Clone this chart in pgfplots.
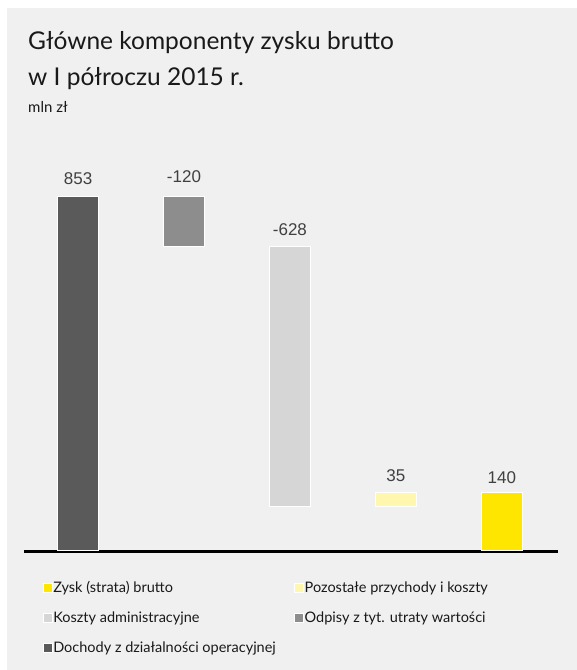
\documentclass[border=0pt]{standalone}
\usepackage{pgfplots}
\pgfplotsset{compat=1.18}
\usepackage{fontspec}
\setmainfont{Lato}
\newfontfamily\lab{Liberation Sans}
\definecolor{bg}{HTML}{F0F0F0}
\definecolor{cdark}{HTML}{5A5A5A}
\definecolor{cgray}{HTML}{8D8D8D}
\definecolor{clgray}{HTML}{D6D6D6}
\definecolor{clyel}{HTML}{FFF7AE}
\definecolor{cyel}{HTML}{FFE600}
\definecolor{ctext}{HTML}{404040}
\begin{document}
\begin{tikzpicture}[x=1pt,y=1pt]
\fill[white] (0,0) rectangle (577,670);
\fill[bg] (7,0) rectangle (577,662);
\node[anchor=base west,inner sep=0,font=\fontsize{24.5}{25}\selectfont,text=black!90] at (28,620) {Główne komponenty zysku brutto};
\node[anchor=base west,inner sep=0,font=\fontsize{24.5}{25}\selectfont,text=black!90] at (28,584) {w I półroczu 2015 r.};
\node[anchor=base west,inner sep=0,font=\fontsize{15}{15}\selectfont,text=black!90] at (28,557) {mln zł};
\begin{axis}[
  at={(24pt,120pt)}, anchor=south west,
  scale only axis, width=534pt, height=415pt,
  xmin=-0.51, xmax=4.53, ymin=0, ymax=1000,
  axis lines=none, clip=false,
  ybar stacked, bar width=41pt,
  legend columns=2,
  legend cell align=left,
  legend image code/.code={\draw[#1] (0pt,-4.5pt) rectangle (9pt,4.5pt);},
  legend style={draw=none, fill=none, at={(0.035,-0.072)}, anchor=north west,
    font=\fontsize{14.5}{15}\selectfont, text=black!90,
    row sep=16pt, column sep=0pt, inner sep=0pt,
    nodes={inner xsep=1pt, inner ysep=1pt}},
]
\addplot[draw=none, fill=none, forget plot] coordinates {(0,0) (1,733) (2,105) (3,105) (4,0)};
\addplot[fill=cdark, draw=white, line width=0.6pt, forget plot] coordinates {(0,853) (1,0) (2,0) (3,0) (4,0)};
\addplot[fill=cgray, draw=white, line width=0.6pt, forget plot] coordinates {(0,0) (1,120) (2,0) (3,0) (4,0)};
\addplot[fill=clgray, draw=white, line width=0.6pt, forget plot] coordinates {(0,0) (1,0) (2,628) (3,0) (4,0)};
\addplot[fill=clyel, draw=white, line width=0.6pt, forget plot] coordinates {(0,0) (1,0) (2,0) (3,35) (4,0)};
\addplot[fill=cyel, draw=white, line width=0.6pt, forget plot] coordinates {(0,0) (1,0) (2,0) (3,0) (4,140)};
\addlegendimage{fill=cyel, draw=white}
\addlegendentry{\makebox[240pt][l]{Zysk (strata) brutto}}
\addlegendimage{fill=clyel, draw=white}
\addlegendentry{Pozostałe przychody i koszty}
\addlegendimage{fill=clgray, draw=white}
\addlegendentry{\makebox[240pt][l]{Koszty administracyjne}}
\addlegendimage{fill=cgray, draw=white}
\addlegendentry{Odpisy z tyt. utraty wartości}
\addlegendimage{fill=cdark, draw=white}
\addlegendentry{Dochody z działalności operacyjnej}
\draw[line width=3pt, black] ([yshift=-1.5pt]axis cs:-0.51,0) -- ([yshift=-1.5pt]axis cs:4.53,0);
\node[font=\lab\fontsize{17}{17}\selectfont, text=ctext, anchor=base] at ([yshift=12pt]axis cs:0,853) {853};
\node[font=\lab\fontsize{17}{17}\selectfont, text=ctext, anchor=base] at ([yshift=14pt]axis cs:1,853) {-120};
\node[font=\lab\fontsize{17}{17}\selectfont, text=ctext, anchor=base] at ([yshift=10pt]axis cs:2,733) {-628};
\node[font=\lab\fontsize{17}{17}\selectfont, text=ctext, anchor=base] at ([yshift=10pt]axis cs:3,140) {35};
\node[font=\lab\fontsize{17}{17}\selectfont, text=ctext, anchor=base] at ([yshift=8pt]axis cs:4,140) {140};
\end{axis}
\end{tikzpicture}
\end{document}
